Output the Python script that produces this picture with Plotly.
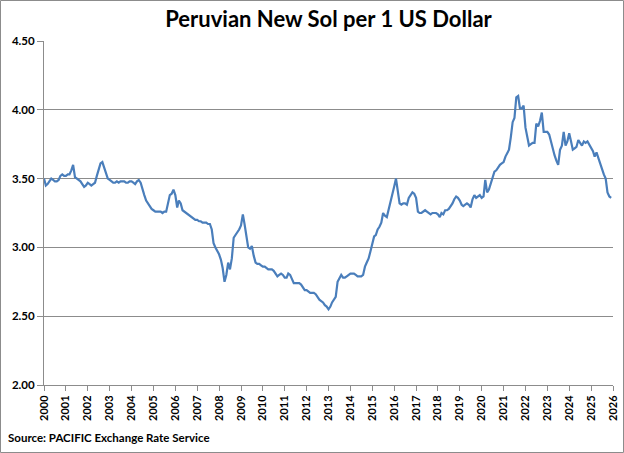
import plotly.graph_objects as go
import pandas as pd

# Monthly USD/PEN rates, Jan 2000 .. Dec 2025
y2000 = [3.50, 3.45, 3.46, 3.48, 3.50, 3.49, 3.48, 3.48, 3.49, 3.52, 3.53, 3.52]
y2001 = [3.52, 3.53, 3.53, 3.56, 3.60, 3.51, 3.50, 3.49, 3.48, 3.46, 3.44, 3.45]
y2002 = [3.47, 3.46, 3.45, 3.46, 3.47, 3.52, 3.56, 3.61, 3.62, 3.58, 3.55, 3.50]
y2003 = [3.49, 3.48, 3.47, 3.47, 3.48, 3.47, 3.48, 3.48, 3.48, 3.47, 3.47, 3.48]
y2004 = [3.48, 3.47, 3.46, 3.48, 3.49, 3.47, 3.42, 3.38, 3.34, 3.32, 3.30, 3.28]
y2005 = [3.27, 3.26, 3.26, 3.26, 3.26, 3.25, 3.26, 3.26, 3.33, 3.38, 3.39, 3.42]
y2006 = [3.38, 3.29, 3.34, 3.32, 3.27, 3.26, 3.25, 3.24, 3.23, 3.22, 3.21, 3.20]
y2007 = [3.20, 3.19, 3.19, 3.18, 3.18, 3.18, 3.17, 3.17, 3.13, 3.03, 3.00, 2.98]
y2008 = [2.95, 2.91, 2.85, 2.75, 2.80, 2.89, 2.84, 2.92, 3.07, 3.09, 3.11, 3.13]
y2009 = [3.16, 3.24, 3.17, 3.07, 3.00, 2.99, 3.01, 2.94, 2.89, 2.88, 2.88, 2.87]
y2010 = [2.86, 2.86, 2.85, 2.84, 2.84, 2.84, 2.83, 2.81, 2.79, 2.80, 2.81, 2.80]
y2011 = [2.78, 2.78, 2.81, 2.80, 2.77, 2.74, 2.74, 2.74, 2.74, 2.73, 2.71, 2.69]
y2012 = [2.69, 2.68, 2.67, 2.67, 2.67, 2.66, 2.64, 2.62, 2.61, 2.60, 2.58, 2.57]
y2013 = [2.55, 2.57, 2.60, 2.62, 2.64, 2.75, 2.78, 2.80, 2.78, 2.78, 2.79, 2.80]
y2014 = [2.81, 2.81, 2.81, 2.80, 2.79, 2.79, 2.79, 2.80, 2.86, 2.89, 2.92, 2.97]
y2015 = [3.02, 3.08, 3.09, 3.13, 3.15, 3.18, 3.25, 3.23, 3.22, 3.28, 3.34, 3.38]
y2016 = [3.44, 3.50, 3.40, 3.32, 3.31, 3.32, 3.32, 3.31, 3.36, 3.38, 3.40, 3.39]
y2017 = [3.36, 3.26, 3.25, 3.25, 3.26, 3.27, 3.26, 3.25, 3.24, 3.25, 3.25, 3.25]
y2018 = [3.24, 3.22, 3.25, 3.24, 3.27, 3.27, 3.28, 3.30, 3.32, 3.35, 3.37, 3.36]
y2019 = [3.34, 3.31, 3.30, 3.31, 3.32, 3.31, 3.29, 3.35, 3.38, 3.36, 3.37, 3.38]
y2020 = [3.36, 3.37, 3.49, 3.40, 3.42, 3.47, 3.50, 3.55, 3.56, 3.58, 3.60, 3.61]
y2021 = [3.62, 3.66, 3.69, 3.71, 3.80, 3.91, 3.94, 4.09, 4.10, 4.01, 4.01, 4.03]
y2022 = [3.87, 3.80, 3.74, 3.75, 3.76, 3.76, 3.90, 3.88, 3.92, 3.98, 3.84, 3.84]
y2023 = [3.84, 3.82, 3.77, 3.73, 3.67, 3.63, 3.60, 3.71, 3.74, 3.84, 3.74, 3.77]
y2024 = [3.83, 3.77, 3.71, 3.72, 3.73, 3.78, 3.76, 3.74, 3.77, 3.76, 3.77, 3.75]
y2025 = [3.73, 3.70, 3.66, 3.69, 3.65, 3.61, 3.56, 3.53, 3.50, 3.40, 3.37, 3.36]

yearly = [y2000, y2001, y2002, y2003, y2004, y2005, y2006, y2007, y2008, y2009,
          y2010, y2011, y2012, y2013, y2014, y2015, y2016, y2017, y2018, y2019,
          y2020, y2021, y2022, y2023, y2024, y2025]
values = [v for yr in yearly for v in yr]
dates = pd.date_range("2000-01-01", periods=len(values), freq="MS")

title_text = "Peruvian New Sol per 1 US Dollar"
source_text = "Source: PACIFIC Exchange Rate Service"

W, H = 624, 453
ML, MR, MT, MB = 44, 11, 41, 68
PW, PH = W - ML - MR, H - MT - MB

FONT = "Lato"
GRID = "#8c8c8c"

fig = go.Figure()
fig.add_trace(go.Scatter(x=dates, y=values, mode="lines",
                         line=dict(color="#4a7ebb", width=2.2), showlegend=False))

fig.update_layout(
    width=W, height=H,
    margin=dict(l=ML, r=MR, t=MT, b=MB, autoexpand=False),
    paper_bgcolor="white", plot_bgcolor="white",
    title=dict(text="<b>" + title_text + "</b>", x=0.5, xref="paper", xanchor="center",
               y=1 - 19 / H, yanchor="middle",
               font=dict(family=FONT, size=22, color="black")),
    xaxis=dict(type="date", range=["2000-01-01", "2026-01-01"], automargin=False,
               tickmode="linear", tick0="2000-01-01", dtick="M12", tickformat="%Y",
               tickangle=-90, ticks="outside", ticklen=5, tickcolor=GRID,
               showline=True, linecolor=GRID, linewidth=1, showgrid=False,
               tickfont=dict(family=FONT, size=11, color="black", weight="bold"),
               zeroline=False),
    yaxis=dict(range=[2.0, 4.5], tickmode="linear", tick0=2.0, dtick=0.5, automargin=False,
               tickformat=".2f", ticks="outside", ticklen=6, tickcolor=GRID,
               showline=True, linecolor=GRID, linewidth=1,
               showgrid=True, gridcolor=GRID, gridwidth=1, zeroline=False,
               tickfont=dict(family=FONT, size=11.5, color="black", weight="bold")),
)

fig.add_annotation(text="<b>" + source_text + "</b>", xref="paper", yref="paper",
                   x=(6 - ML) / PW, y=(MT + PH - 437) / PH, xanchor="left", yanchor="middle",
                   showarrow=False, font=dict(family=FONT, size=11.5, color="black"))

# outer chart border
fig.add_shape(type="rect", xref="paper", yref="paper",
              x0=(0.5 - ML) / PW, x1=(W - 0.5 - ML) / PW,
              y0=(MT + PH - (H - 0.5)) / PH, y1=(MT + PH - 0.5) / PH,
              line=dict(color="#8c8c8c", width=1), fillcolor="rgba(0,0,0,0)")

fig.write_html("out.html")
